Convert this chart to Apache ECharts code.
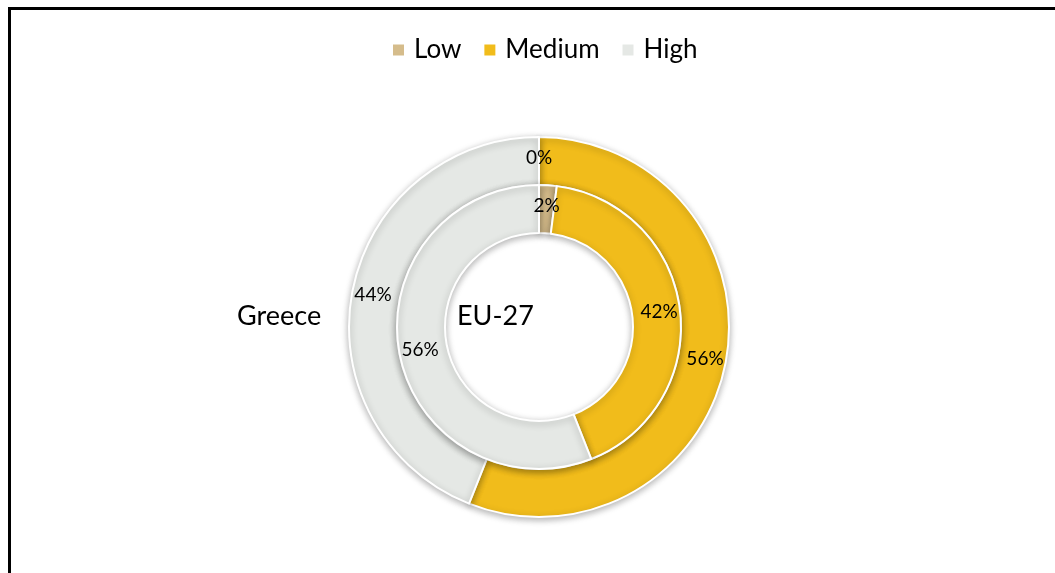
<!DOCTYPE html>
<html>
<head>
<meta charset="utf-8">
<script src="https://cdn.jsdelivr.net/npm/echarts@6/dist/echarts.min.js"></script>
<style>
  html, body { margin: 0; padding: 0; background: #fff; }
  #frame {
    position: absolute; left: 8px; top: 7px; right: 0; bottom: 0;
    border-left: 3px solid #000; border-top: 3px solid #000;
  }
  #chart { position: absolute; left: 0; top: 0; width: 1055px; height: 573px; }
</style>
</head>
<body>
<div id="frame"></div>
<div id="chart"></div>
<script>
const categories = ["Low", "Medium", "High"];
const colors = ["#D5BC8B", "#F1BC1B", "#E5E8E5"];
const greeceValues = [0, 56, 44];
const euValues = [2, 42, 56];

const chart = echarts.init(document.getElementById("chart"));

const toData = (vals) => vals.map((v, i) => ({ name: categories[i], value: v }));

const ringStyle = {
  borderColor: "#fff",
  borderWidth: 2,
  shadowBlur: 7,
  shadowColor: "rgba(0,0,0,0.3)",
  shadowOffsetY: 2
};

const labelStyle = {
  show: true,
  position: "inside",
  color: "#000",
  fontSize: 19,
  fontFamily: "Lato",
  formatter: (p) => p.value + "%"
};

chart.setOption({
  color: colors,
  animation: false,
  legend: {
    data: categories,
    top: 32,
    left: 386,
    icon: "rect",
    itemWidth: 13,
    itemHeight: 13,
    itemGap: 21,
    textStyle: { fontSize: 26, fontFamily: "Lato", color: "#000", padding: [0, 0, 0, 4] }
  },
  graphic: [
    {
      type: "text", left: 237, top: 303,
      style: { text: "Greece", fontSize: 27, fontFamily: "Lato", fill: "#000" }
    },
    {
      type: "text", left: 457, top: 303,
      style: { text: "EU-27", fontSize: 27, fontFamily: "Lato", fill: "#000" }
    }
  ],
  series: [
    {
      name: "Greece",
      type: "pie",
      center: [539, 327],
      radius: [142, 190],
      startAngle: 90,
      clockwise: true,
      avoidLabelOverlap: false,
      itemStyle: ringStyle,
      label: labelStyle,
      labelLine: { show: false },
      emphasis: { disabled: true },
      data: toData(greeceValues)
    },
    {
      name: "EU-27",
      type: "pie",
      center: [539, 327],
      radius: [94, 142],
      startAngle: 90,
      clockwise: true,
      avoidLabelOverlap: false,
      itemStyle: ringStyle,
      label: labelStyle,
      labelLine: { show: false },
      emphasis: { disabled: true },
      data: toData(euValues)
    }
  ]
});
</script>
</body>
</html>
